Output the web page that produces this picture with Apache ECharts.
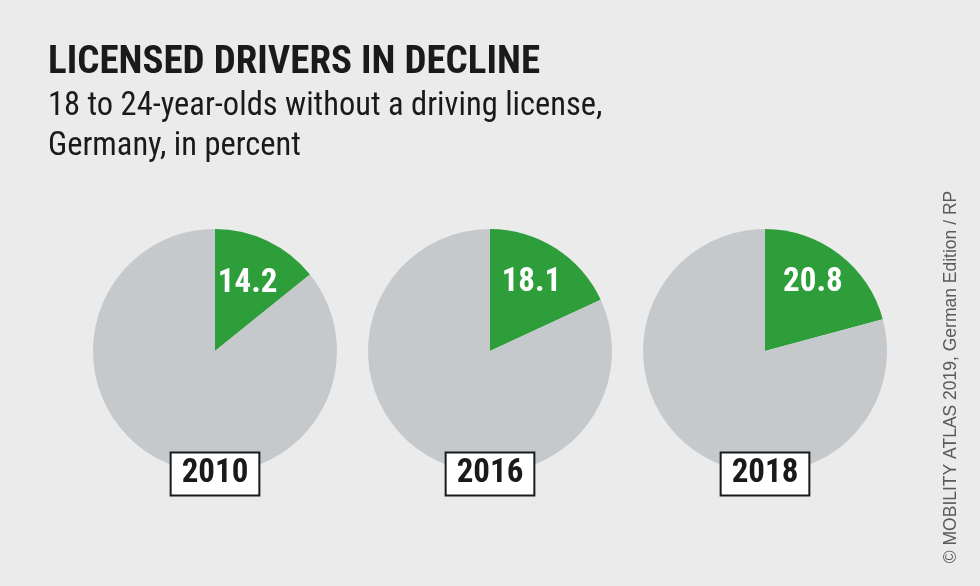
<!DOCTYPE html>
<html>
<head>
<meta charset="utf-8">
<script src="https://cdn.jsdelivr.net/npm/echarts@6/dist/echarts.min.js"></script>
<style>
  html, body { margin: 0; padding: 0; background: #ebebeb; }
  #chart { width: 980px; height: 586px; }
</style>
</head>
<body>
<div id="chart"></div>
<script>
// ---- data ----
const years = ['2010', '2016', '2018'];
const withoutLicense = [14.2, 18.1, 20.8];
const titleText = 'LICENSED DRIVERS IN DECLINE';
const subtitleText = '18 to 24-year-olds without a driving license,\nGermany, in percent';
const creditText = '© MOBILITY ATLAS 2019, German Edition / RP';

// ---- layout / style ----
const centersX = [215, 490, 765];
const centerY = 351;
const labelOffsets = [[5, -10], [7, -14], [9, -17]];
const GREEN = '#2e9e3b';
const GRAY = '#c5c9cc';
const COND = '"Roboto Condensed", "Open Sans", sans-serif';

const chart = echarts.init(document.getElementById('chart'), null, { renderer: 'canvas' });

const series = years.map((y, i) => ({
  type: 'pie',
  name: y,
  center: [centersX[i], centerY],
  radius: 122,
  startAngle: 90,
  clockwise: true,
  silent: true,
  avoidLabelOverlap: false,
  label: { show: false },
  labelLine: { show: false },
  emphasis: { disabled: true },
  itemStyle: { borderWidth: 0 },
  data: [
    {
      value: withoutLicense[i],
      name: 'without license',
      itemStyle: { color: GREEN },
      label: {
        show: true,
        position: 'inside',
        formatter: '{c}',
        offset: labelOffsets[i],
        color: '#ffffff',
        fontFamily: COND,
        fontWeight: 'bold',
        fontSize: 33
      }
    },
    {
      value: +(100 - withoutLicense[i]).toFixed(1),
      name: 'with license',
      itemStyle: { color: GRAY }
    }
  ]
}));

const yearBoxes = years.map((y, i) => ({
  type: 'text',
  x: centersX[i],
  y: 474,
  z: 100,
  style: {
    text: y,
    align: 'center',
    verticalAlign: 'middle',
    fontFamily: COND,
    fontWeight: 'bold',
    fontSize: 33,
    lineHeight: 37,
    fill: '#1a1a1a',
    backgroundColor: '#ffffff',
    borderColor: '#1a1a1a',
    borderWidth: 2,
    padding: [3, 10, 1, 10]
  }
}));

chart.setOption({
  backgroundColor: '#ebebeb',
  animation: false,
  title: [
    {
      text: titleText,
      left: 43,
      top: 39,
      textStyle: { fontFamily: COND, fontWeight: 'bold', fontSize: 39, color: '#1a1a1a' }
    },
    {
      text: subtitleText,
      left: 43,
      top: 82,
      textStyle: { fontFamily: COND, fontWeight: 'normal', fontSize: 32.5, lineHeight: 40, color: '#1a1a1a' }
    }
  ],
  graphic: [
    ...yearBoxes,
    {
      type: 'text',
      x: 951,
      y: 377,
      rotation: Math.PI / 2,
      style: {
        text: creditText,
        align: 'center',
        verticalAlign: 'middle',
        fontFamily: '"Liberation Sans", Arial, sans-serif',
        fontSize: 17.5,
        fill: '#5a5a5a'
      }
    }
  ],
  series: series
});
</script>
</body>
</html>
